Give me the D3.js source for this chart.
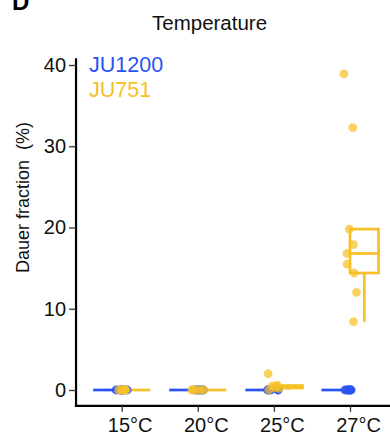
<!DOCTYPE html>
<html>
<head>
<meta charset="utf-8">
<script src="https://cdn.jsdelivr.net/npm/d3@7/dist/d3.min.js"></script>
<style>
  html, body { margin: 0; padding: 0; background: #fff; }
  svg { display: block; font-family: "Liberation Sans", Arial, sans-serif; }
</style>
</head>
<body>
<svg id="chart" width="390" height="445"></svg>
<script>
// ---- data ----
const groups = ["15°C", "20°C", "25°C", "27°C"];
const strains = ["JU1200", "JU751"];
const ju1200 = [
  [0, 0, 0, 0, 0, 0],
  [0, 0, 0, 0, 0, 0],
  [0, 0, 0, 0, 0, 0],
  [0, 0, 0, 0, 0, 0, 0]
];
const ju751 = [
  [0, 0, 0, 0, 0, 0],
  [0, 0, 0, 0, 0, 0],
  [0, 0.2, 0.3, 0.4, 0.5, 0.6, 2.0],
  [8.4, 12.0, 14.4, 15.5, 16.8, 17.9, 19.8, 32.3, 38.9]
];
const yTicks = [0, 10, 20, 30, 40];
const colors = { JU1200: "#2a52f5", JU751: "#f6c026" };

// ---- layout ----
const svg = d3.select("#chart");
const x = d3.scalePoint().domain(groups).range([121.7, 350]);
const step = x.step();
const allVals = ju1200.flat().concat(ju751.flat());
const vMax = d3.max(allVals), vMin = d3.min(allVals);
const expand = (vMax - vMin) * 0.05;
const y = d3.scaleLinear().domain([0, 40]).range([390, 65]);
const panelTop = y(vMax + expand), panelBottom = y(vMin - expand);
const panelLeft = x(groups[0]) - 0.6 * step;
const panelRight = x(groups[groups.length - 1]) + 0.6 * step;
const boxW = 0.375 * step;

// title / panel letter
svg.append("text").attr("x", 12).attr("y", 10)
  .attr("font-size", 24).attr("font-weight", "bold").text("D");
svg.append("text").attr("x", 152).attr("y", 30)
  .attr("font-size", 20.5).attr("fill", "#111").text("Temperature");

// boxes
function stats(v) {
  const s = v.slice().sort(d3.ascending);
  const q1 = d3.quantileSorted(s, 0.25), med = d3.quantileSorted(s, 0.5), q3 = d3.quantileSorted(s, 0.75);
  const iqr = q3 - q1;
  const lo = d3.min(s.filter(d => d >= q1 - 1.5 * iqr));
  const hi = d3.max(s.filter(d => d <= q3 + 1.5 * iqr));
  return { q1, med, q3, lo, hi };
}
const series = [
  { name: "JU1200", data: ju1200, side: -1 },
  { name: "JU751", data: ju751, side: 1 }
];
const gBox = svg.append("g");
series.forEach(s => {
  s.data.forEach((vals, gi) => {
    const st = stats(vals);
    const c = x(groups[gi]);
    const x0 = s.side < 0 ? c - boxW : c;
    const xm = x0 + boxW / 2;
    const g = gBox.append("g").attr("stroke", colors[s.name]).attr("fill", "none")
      .attr("stroke-width", 2.7);
    g.append("line").attr("x1", xm).attr("x2", xm).attr("y1", y(st.q3)).attr("y2", y(st.hi));
    g.append("line").attr("x1", xm).attr("x2", xm).attr("y1", y(st.q1)).attr("y2", y(st.lo));
    g.append("rect").attr("x", x0).attr("width", boxW)
      .attr("y", y(st.q3)).attr("height", Math.max(0, y(st.q1) - y(st.q3)));
    g.append("line").attr("x1", x0).attr("x2", x0 + boxW).attr("y1", y(st.med)).attr("y2", y(st.med));
  });
});

// points (deterministic jitter)
function jit(i, k) {
  const v = Math.sin((i + 1) * 12.9898 + k * 78.233) * 43758.5453;
  return (v - Math.floor(v)) - 0.5;
}
const gPts = svg.append("g");
series.forEach((s, si) => {
  s.data.forEach((vals, gi) => {
    vals.forEach((v, i) => {
      gPts.append("circle")
        .attr("cx", x(groups[gi]) + jit(i, gi * 3 + si) * 13)
        .attr("cy", y(v))
        .attr("r", 4.4)
        .attr("fill", colors[s.name])
        .attr("fill-opacity", s.name === "JU751" ? 0.72 : 0.85);
    });
  });
});

// axes
const gAx = svg.append("g").attr("stroke", "#000").attr("stroke-width", 2.2);
gAx.append("line").attr("x1", panelLeft).attr("x2", panelLeft).attr("y1", panelTop).attr("y2", panelBottom + 1.1);
gAx.append("line").attr("x1", panelLeft - 1.1).attr("x2", panelRight).attr("y1", panelBottom).attr("y2", panelBottom);

const yAxis = d3.axisLeft(y).tickValues(yTicks).tickSize(7).tickPadding(3);
const gy = svg.append("g").attr("transform", `translate(${panelLeft},0)`).call(yAxis);
gy.select(".domain").remove();
gy.selectAll(".tick line").attr("stroke", "#333").attr("stroke-width", 1.3);
gy.selectAll(".tick text").attr("font-size", 20).attr("fill", "#111")
  .attr("font-family", "Liberation Sans, Arial, sans-serif");

const xAxis = d3.axisBottom(x).tickSize(6).tickPadding(6);
const gx = svg.append("g").attr("transform", `translate(0,${panelBottom})`).call(xAxis);
gx.select(".domain").remove();
gx.selectAll(".tick line").attr("stroke", "#333").attr("stroke-width", 1.3);
gx.selectAll(".tick text").attr("font-size", 20).attr("fill", "#111").attr("dx", 8)
  .attr("font-family", "Liberation Sans, Arial, sans-serif");

// y title
svg.append("text").attr("transform", "translate(29,197.5) rotate(-90)")
  .attr("text-anchor", "middle").attr("font-size", 18).attr("fill", "#111")
  .attr("xml:space", "preserve").style("white-space", "pre")
  .text("Dauer fraction  (%)");

// legend
strains.forEach((s, i) => {
  svg.append("text").attr("x", 89).attr("y", 72 + i * 24.5)
    .attr("font-size", 21.5).attr("fill", colors[s]).text(s);
});
</script>
</body>
</html>
